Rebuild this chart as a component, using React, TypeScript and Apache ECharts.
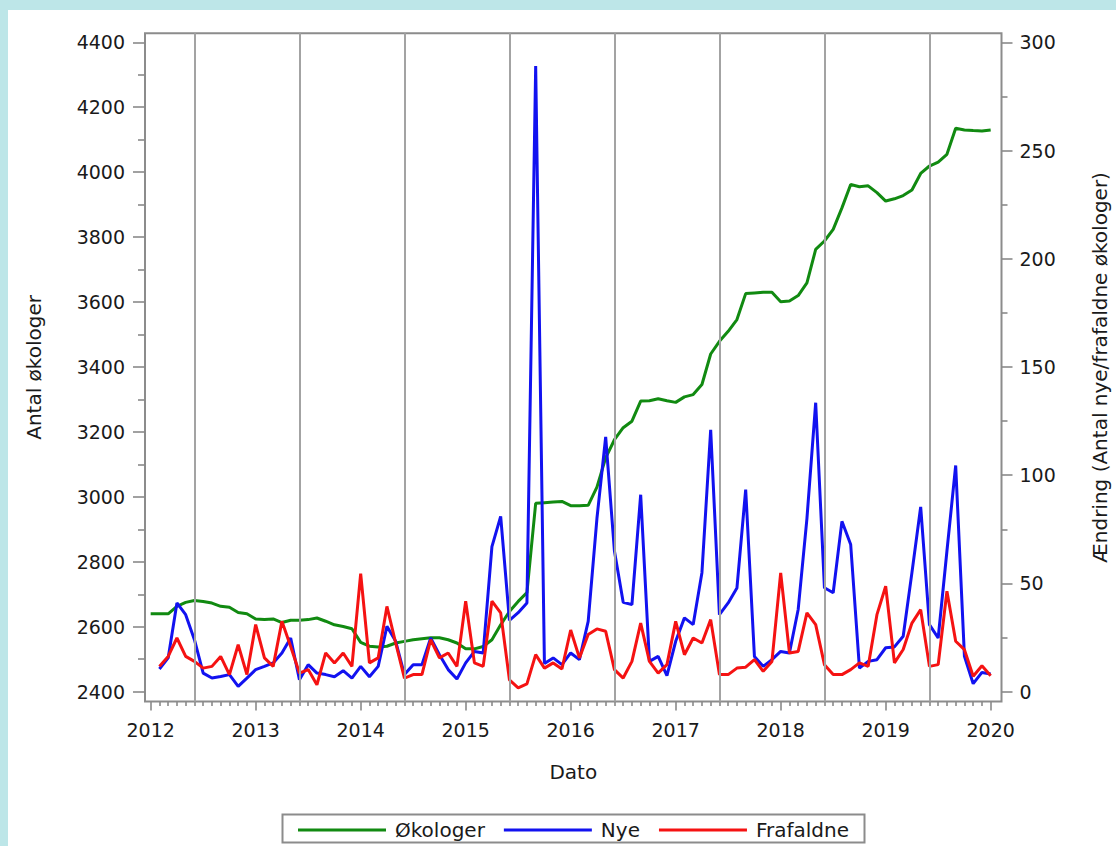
import React, { useEffect, useRef } from "react";
import * as echarts from "echarts";

// ---- data (monthly, Jan 2012 .. Jan 2020) ----
const startYear = 2012;

// Antal økologer (left axis), Jan 2012 .. Jan 2020
const okologer = [
  2640, 2640, 2640, 2663, 2675, 2681, 2678, 2673, 2663, 2660, 2644, 2640,
  2624, 2622, 2624, 2613, 2620, 2620, 2622, 2627, 2617, 2606, 2601, 2594,
  2552, 2540, 2538, 2540, 2550, 2555, 2560, 2563, 2566, 2566, 2560, 2550,
  2532, 2532, 2539, 2560, 2606, 2647, 2678, 2705, 2980, 2982, 2984, 2986,
  2973, 2973, 2974, 3030, 3120, 3176, 3213, 3233, 3295, 3296, 3302, 3296,
  3291, 3308, 3315, 3346, 3440, 3479, 3510, 3546, 3626, 3628, 3630, 3630,
  3601, 3603, 3620, 3659, 3762, 3788, 3824, 3890, 3962, 3955, 3958, 3937,
  3911, 3918, 3928, 3945, 3996, 4019, 4031, 4055, 4135, 4130, 4128, 4127,
  4130,
];

// Nye (right axis), Feb 2012 .. Jan 2020
const nye = [
  10.5, 15.6, 41, 35.6, 24, 8.6, 6.3, 7, 7.9, 2.5, 6.3,
  10.2, 11.7, 13.3, 17.9, 24.8, 5.5, 12.5, 8.6, 7.9, 6.9, 9.7, 6.3,
  11.7, 6.9, 11.7, 30.2, 23.3, 7.9, 12.5, 12.5, 24.8, 17.1, 10.2, 5.9,
  13.3, 18.6, 17.9, 67, 81, 33, 36.5, 41, 289, 13, 15.6, 12.5,
  17.9, 14.8, 32.5, 80, 117.7, 65, 41.3, 40.2, 91, 14, 16.3, 7.4,
  23.3, 34.1, 31, 55, 121, 35.6, 41, 47.9, 93.4, 16.3, 11.7, 14.8,
  18.6, 17.9, 38, 80, 133.5, 48, 45.7, 78.7, 68, 10.9, 14, 14.8,
  20.3, 20.7, 25.6, 55, 85.4, 31, 24.8, 65, 104.5, 16.3, 3.7, 8.9,
  8.2,
];

// Frafaldne (right axis), Feb 2012 .. Jan 2020
const frafaldne = [
  11.7, 16.3, 24.8, 16.3, 14, 10.9, 11.7, 16.3, 7.9, 21.7, 7.9,
  31, 15.6, 11.7, 32.5, 20.9, 8.6, 10.2, 3.2, 17.9, 13.3, 17.9, 11.7,
  54.5, 13.3, 15.6, 39.4, 22.5, 6.3, 7.9, 7.9, 24, 15.6, 17.9, 11.7,
  41.8, 13.3, 11.7, 41.8, 36.4, 5.5, 1.8, 3.6, 17.1, 10.9, 13.3, 10.5,
  28.5, 15.6, 26.4, 29, 27.9, 10.2, 6.3, 14, 31.7, 14, 8.6, 12.5,
  32.5, 17.1, 24.8, 22.5, 33.3, 7.9, 7.9, 10.9, 11.3, 14.8, 9.4, 14,
  54.9, 17.9, 18.6, 36.4, 31, 12.5, 7.9, 7.9, 10.2, 13.3, 11.7, 35.6,
  48.7, 13.3, 19.5, 31.7, 37.9, 11.7, 12.5, 46.4, 23.3, 19.4, 7.1, 12,
  7.4,
];

const xTickYears = [2012, 2013, 2014, 2015, 2016, 2017, 2018, 2019, 2020];
const leftTicks = [2400, 2600, 2800, 3000, 3200, 3400, 3600, 3800, 4000, 4200, 4400];
const leftMinorTicks = [2500, 2700, 2900, 3100, 3300, 3500, 3700, 3900, 4100, 4300];
const rightTicks = [0, 50, 100, 150, 200, 250, 300];
const rightMinorTicks = [25, 75, 125, 175, 225, 275];
// vertical reference lines: June of every year
const refLineMonths = ["2012-06", "2013-06", "2014-06", "2015-06", "2016-06", "2017-06", "2018-06", "2019-06"];

const seriesNames = ["Økologer", "Nye", "Frafaldne"];
const seriesColors = ["#118a11", "#1212f0", "#f51212"];

const monthToYear = (i: number) => startYear + i / 12;
const ymToYear = (s: string) => {
  const [y, m] = s.split("-").map(Number);
  return y + (m - 1) / 12;
};

const FONT = "DejaVu Sans";
const GRID_LEFT = 145;
const GRID_RIGHT_X = 1001.5;
const GRID_TOP = 33.3;
const GRID_BOTTOM_Y = 701.5;

const X_MIN = 2011.946;
const X_MAX = 2020.103;
const L_MIN = 2369.8;
const L_MAX = 4427.7;
const R_MIN = -4.53;
const R_MAX = 304.16;

export default function App() {
  const ref = useRef<HTMLDivElement>(null);

  useEffect(() => {
    document.body.style.margin = "0";
    if (!ref.current) return;
    const chart = echarts.init(ref.current, undefined, { renderer: "svg" });

    const minorMonths: number[] = [];
    for (let i = 0; i <= (xTickYears[xTickYears.length - 1] - startYear) * 12; i++) {
      if (i % 12 !== 0) minorMonths.push(monthToYear(i));
    }

    const tickLine = { color: "#8a8a8a", width: 1.6 };
    const labelStyle = { fontFamily: FONT, fontSize: 19, color: "#1a1a1a" };
    const nameStyle = { fontFamily: FONT, fontSize: 20, color: "#1a1a1a" };
    const noLine = { show: false, onZero: false };
    const intFmt = (v: number) => String(Math.round(v));

    const option: any = {
      animation: false,
      backgroundColor: "transparent",
      grid: {
        left: GRID_LEFT,
        right: 1116 - GRID_RIGHT_X,
        top: GRID_TOP,
        bottom: 846 - GRID_BOTTOM_Y,
        show: true,
        borderColor: "#8c8c8c",
        borderWidth: 2,
        containLabel: false,
        outerBoundsMode: "none",
      },
      xAxis: [
        {
          type: "value",
          min: X_MIN,
          max: X_MAX,
          position: "bottom",
          axisLine: noLine,
          splitLine: { show: false },
          axisTick: { show: true, customValues: xTickYears, length: 9, lineStyle: tickLine },
          axisLabel: {
            show: true,
            customValues: xTickYears,
            margin: 19,
            ...labelStyle,
            formatter: intFmt,
          },
          name: "Dato",
          nameLocation: "middle",
          nameGap: 60,
          nameTextStyle: nameStyle,
        },
        {
          type: "value",
          min: X_MIN,
          max: X_MAX,
          position: "bottom",
          axisLine: noLine,
          splitLine: { show: false },
          axisTick: { show: true, customValues: minorMonths, length: 4.5, lineStyle: tickLine },
          axisLabel: { show: false },
        },
      ],
      yAxis: [
        {
          type: "value",
          min: L_MIN,
          max: L_MAX,
          position: "left",
          axisLine: noLine,
          splitLine: { show: false },
          axisTick: { show: true, customValues: leftTicks, length: 12, lineStyle: tickLine },
          axisLabel: { show: true, customValues: leftTicks, margin: 20, ...labelStyle, formatter: intFmt },
          name: "Antal økologer",
          nameLocation: "middle",
          nameRotate: 90,
          nameGap: 101,
          nameTextStyle: nameStyle,
        },
        {
          type: "value",
          min: R_MIN,
          max: R_MAX,
          position: "right",
          axisLine: noLine,
          splitLine: { show: false },
          axisTick: { show: true, customValues: rightTicks, length: 11, lineStyle: tickLine },
          axisLabel: { show: true, customValues: rightTicks, margin: 18, ...labelStyle, formatter: intFmt },
          name: "Ændring (Antal nye/frafaldne økologer)",
          nameLocation: "middle",
          nameRotate: 90,
          nameGap: 88,
          nameTextStyle: nameStyle,
        },
        {
          type: "value",
          min: L_MIN,
          max: L_MAX,
          position: "left",
          axisLine: noLine,
          splitLine: { show: false },
          axisTick: { show: true, customValues: leftMinorTicks, length: 7, lineStyle: tickLine },
          axisLabel: { show: false },
        },
        {
          type: "value",
          min: R_MIN,
          max: R_MAX,
          position: "right",
          axisLine: noLine,
          splitLine: { show: false },
          axisTick: { show: true, customValues: rightMinorTicks, length: 6, lineStyle: tickLine },
          axisLabel: { show: false },
        },
      ],
      legend: {
        left: 293,
        top: 815,
        icon: "rect",
        itemWidth: 88,
        itemHeight: 3,
        itemGap: 19,
        data: seriesNames,
        textStyle: { fontFamily: FONT, fontSize: 20, color: "#1a1a1a", padding: [0, 0, 0, 4] },
      },
      graphic: [
        {
          type: "rect",
          left: 280,
          top: 812,
          shape: { width: 582, height: 28 },
          style: { fill: "none", stroke: "#8c8c8c", lineWidth: 2 },
          silent: true,
        },
      ],
      series: [
        {
          type: "line",
          name: "refLines",
          data: [],
          xAxisIndex: 0,
          yAxisIndex: 0,
          z: 1,
          silent: true,
          markLine: {
            silent: true,
            symbol: ["none", "none"],
            label: { show: false },
            lineStyle: { color: "#a3a3a3", width: 2, type: "solid" },
            emphasis: { disabled: true },
            data: refLineMonths.map((s) => ({ xAxis: ymToYear(s) })),
          },
        },
        {
          type: "line",
          name: seriesNames[0],
          xAxisIndex: 0,
          yAxisIndex: 0,
          z: 3,
          symbol: "none",
          color: seriesColors[0],
          lineStyle: { color: seriesColors[0], width: 3 },
          data: okologer.map((v, i) => [monthToYear(i), v]),
        },
        {
          type: "line",
          name: seriesNames[1],
          xAxisIndex: 0,
          yAxisIndex: 1,
          z: 3,
          symbol: "none",
          color: seriesColors[1],
          lineStyle: { color: seriesColors[1], width: 3 },
          data: nye.map((v, i) => [monthToYear(i + 1), v]),
        },
        {
          type: "line",
          name: seriesNames[2],
          xAxisIndex: 0,
          yAxisIndex: 1,
          z: 3,
          symbol: "none",
          color: seriesColors[2],
          lineStyle: { color: seriesColors[2], width: 3 },
          data: frafaldne.map((v, i) => [monthToYear(i + 1), v]),
        },
      ],
    };

    chart.setOption(option);
    return () => chart.dispose();
  }, []);

  return (
    <div style={{ position: "relative", width: 1116, height: 846, background: "#bde6e8", overflow: "hidden" }}>
      <div style={{ position: "absolute", left: 8, top: 10, width: 1108, height: 836, background: "#ffffff" }} />
      <div ref={ref} style={{ position: "absolute", left: 0, top: 0, width: 1116, height: 846 }} />
    </div>
  );
}
